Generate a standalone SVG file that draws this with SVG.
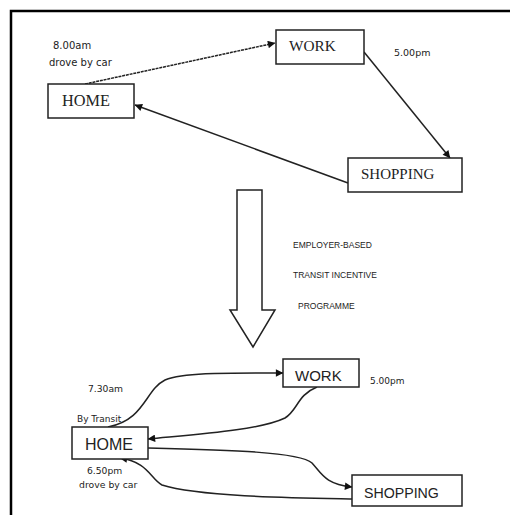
<svg xmlns="http://www.w3.org/2000/svg" width="510" height="515" viewBox="0 0 510 515">
<defs>
<marker id="ah" viewBox="0 0 10 10" refX="9.5" refY="5" markerWidth="8.5" markerHeight="7.5" markerUnits="userSpaceOnUse" orient="auto">
<path d="M0,0 L10,5 L0,10 z" fill="#111"/>
</marker>
<style>
.box{fill:#fff;stroke:#222;stroke-width:1.5}
.ser{font-family:"Liberation Serif","Times New Roman",serif;fill:#222}
.san{font-family:"Liberation Sans",Arial,sans-serif;fill:#222}
.lbl{font-family:"DejaVu Sans",Verdana,sans-serif;fill:#222}
.con{fill:none;stroke:#222;stroke-width:1.5;marker-end:url(#ah)}
</style>
</defs>
<rect width="510" height="515" fill="#fff"/>
<path d="M11,515 V11 H510" fill="none" stroke="#000" stroke-width="2.5"/>

<g id="connectors">
<path class="con" d="M85,84 L275,43" stroke-dasharray="3 0.8"/>
<path class="con" d="M364,52 L450,158"/>
<path class="con" d="M348,183 L135,105"/>
<path class="con" d="M108,427 C145,420 145,390 165,380 C185,372 230,373 283,373"/>
<path class="con" d="M317,387 C297,395 298,410 285,418 C260,430 200,434 148,439"/>
<path class="con" d="M148,448 C230,450 300,452 312,463 C322,474 325,484 352,487"/>
<path class="con" d="M352,499 C300,498 200,497 162,485 C150,478 148,462 120,458"/>
</g>

<g id="top-home">
<rect class="box" x="48" y="84" width="86" height="34"/>
<text class="ser" x="62" y="106" font-size="16.3">HOME</text>
</g>
<g id="top-work">
<rect class="box" x="276" y="30" width="88" height="34"/>
<text class="ser" x="289" y="51" font-size="15.3">WORK</text>
</g>
<g id="top-shopping">
<rect class="box" x="348" y="158" width="114" height="34"/>
<text class="ser" x="361" y="179" font-size="15">SHOPPING</text>
</g>
<g id="top-labels">
<text class="lbl" x="53" y="49" font-size="10">8.00am</text>
<text class="lbl" x="49" y="66" font-size="10">drove by car</text>
<text class="lbl" x="394" y="56" font-size="9.5">5.00pm</text>
</g>

<g id="big-arrow">
<path d="M237,190 H262 V310 H275 L253,347 L230,310 H237 Z" fill="#fff" stroke="#222" stroke-width="1.5" stroke-linejoin="miter"/>
</g>
<g id="programme-label">
<text class="san" x="293" y="248" font-size="8.5">EMPLOYER-BASED</text>
<text class="san" x="293" y="278" font-size="8.5">TRANSIT INCENTIVE</text>
<text class="san" x="298" y="309" font-size="8.5">PROGRAMME</text>
</g>

<g id="bottom-home">
<rect class="box" x="72" y="427" width="76" height="32"/>
<text class="san" x="85" y="450" font-size="16">HOME</text>
</g>
<g id="bottom-work">
<rect class="box" x="283" y="359" width="76" height="28"/>
<text class="san" x="295" y="381" font-size="15">WORK</text>
</g>
<g id="bottom-shopping">
<rect class="box" x="352" y="475" width="110" height="31"/>
<text class="san" x="364" y="498" font-size="14.2">SHOPPING</text>
</g>
<g id="bottom-labels">
<text class="lbl" x="88" y="392" font-size="9.2">7.30am</text>
<text class="lbl" x="77" y="422" font-size="9">By Transit</text>
<text class="lbl" x="370" y="384" font-size="9">5.00pm</text>
<text class="lbl" x="87" y="474" font-size="9.2">6.50pm</text>
<text class="lbl" x="79" y="488" font-size="9.3">drove by car</text>
</g>
</svg>
